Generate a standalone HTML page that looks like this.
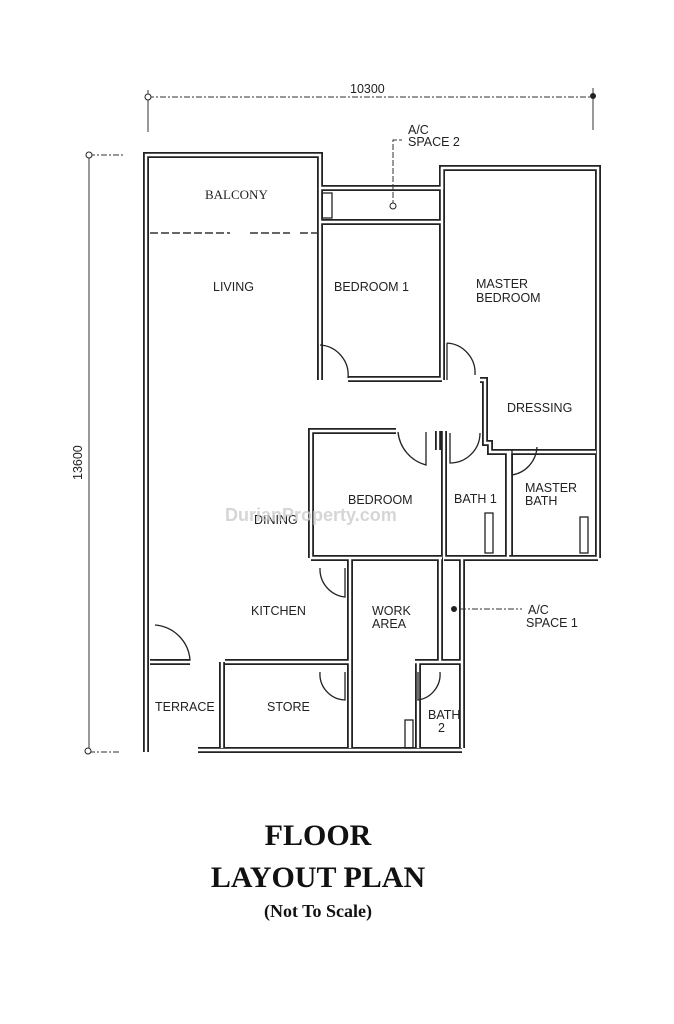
<!DOCTYPE html>
<html><head><meta charset="utf-8"><style>
body{margin:0;background:#fff;width:674px;height:1024px;overflow:hidden}
svg{display:block}
.w{fill:none;stroke:#222;stroke-width:6;stroke-linejoin:miter}
.wi{fill:none;stroke:#fff;stroke-width:2.4}
.t{font-family:"Liberation Sans",sans-serif;font-size:12.5px;fill:#222}
.d{stroke:#333;stroke-width:1;stroke-dasharray:6 2 2 2;fill:none}
.a{fill:none;stroke:#222;stroke-width:1.3}
</style></head><body>
<svg width="674" height="1024" viewBox="0 0 674 1024">
<defs>
<g id="walls">
<path d="M146,752 V155 H320 V188 H442 V168 H598 V558"/>
<path d="M320,188 V380 M320,222 H442 M442,168 V380"/>
<path d="M348,379 H442"/>
<path d="M480,380 H485 V443 H490 V452 H596"/>
<path d="M311,558 V431 H396 M311,558 H442"/>
<path d="M444,431 V558 M438,431 V450"/>
<path d="M508,452 V558 M444,558 H598"/>
<path d="M510,452 V555"/>
<path d="M350,558 V748 M462,558 V748 M440,558 V662"/>
<path d="M150,662 H190 M225,662 H350 M222,662 V748"/>
<path d="M415,662 H462 M418,662 V748"/>
<path d="M198,750 H462"/>
</g>
</defs>
<use href="#walls" class="w"/>
<use href="#walls" class="wi"/>
<path d="M150,233 H230 M250,233 H290 M300,233 H318" stroke="#333" stroke-width="1.5" stroke-dasharray="8 3"/>
<path class="a" d="M318,345 V380 M320,345 A30,30 0 0 1 348,378"/>
<path class="a" d="M447,343 V380 M447,343 A30,30 0 0 1 475,375"/>
<path class="a" d="M398,432 A38,38 0 0 0 426,465 V432"/>
<path class="a" d="M480,433 A30,30 0 0 1 450,463 V433"/>
<path class="a" d="M537,447 A30,30 0 0 1 512,475 V450"/>
<path class="a" d="M320,568 A28,28 0 0 0 345,597 V568"/>
<path class="a" d="M155,625 A38,38 0 0 1 190,660 H155"/>
<path class="a" d="M320,672 A26,26 0 0 0 345,700 V672"/>
<path class="a" d="M440,672 A26,26 0 0 1 418,700 V672"/>
<rect x="322" y="193" width="10" height="25" class="a"/>
<rect x="485" y="513" width="8" height="40" class="a"/>
<rect x="580" y="517" width="8" height="36" class="a"/>
<rect x="405" y="720" width="8" height="28" class="a"/>
<line x1="148" y1="97" x2="593" y2="97" class="d"/>
<line x1="148" y1="90" x2="148" y2="132" stroke="#333"/>
<line x1="593" y1="88" x2="593" y2="130" stroke="#333"/>
<circle cx="148" cy="97" r="3" fill="#fff" stroke="#222"/>
<circle cx="593" cy="96" r="3" fill="#222"/>
<text x="350" y="93" class="t">10300</text>
<line x1="89" y1="155" x2="89" y2="752" stroke="#333"/>
<line x1="89" y1="155" x2="125" y2="155" class="d"/>
<line x1="89" y1="752" x2="120" y2="752" class="d"/>
<circle cx="89" cy="155" r="3" fill="#fff" stroke="#222"/>
<circle cx="88" cy="751" r="3" fill="#fff" stroke="#222"/>
<text transform="translate(82,480) rotate(-90)" class="t">13600</text>
<path d="M393,206 V140 H402" stroke="#333" fill="none" stroke-dasharray="6 2"/>
<circle cx="393" cy="206" r="3" fill="#fff" stroke="#222"/>
<text x="408" y="134" class="t">A/C</text><text x="408" y="146" class="t">SPACE 2</text>
<circle cx="454" cy="609" r="3" fill="#222"/>
<path d="M460,609 H522" class="d"/>
<text x="528" y="614" class="t">A/C</text><text x="526" y="627" class="t">SPACE 1</text>
<text x="205" y="199" font-family="Liberation Serif,serif" font-size="13" fill="#222">BALCONY</text>
<text x="213" y="291" class="t">LIVING</text>
<text x="334" y="291" class="t">BEDROOM 1</text>
<text x="476" y="288" class="t">MASTER</text><text x="476" y="302" class="t">BEDROOM</text>
<text x="507" y="412" class="t">DRESSING</text>
<text x="348" y="504" class="t">BEDROOM</text>
<text x="254" y="524" class="t">DINING</text>
<text x="454" y="503" class="t">BATH 1</text>
<text x="525" y="492" class="t">MASTER</text><text x="525" y="505" class="t">BATH</text>
<text x="251" y="615" class="t">KITCHEN</text>
<text x="372" y="615" class="t">WORK</text><text x="372" y="628" class="t">AREA</text>
<text x="155" y="711" class="t">TERRACE</text>
<text x="267" y="711" class="t">STORE</text>
<text x="428" y="719" class="t">BATH</text><text x="438" y="732" class="t">2</text>
<text x="225" y="521" font-family="Liberation Sans,sans-serif" font-size="18" font-weight="bold" fill="#ccc" opacity="0.8">DurianProperty.com</text>
<text x="318" y="845" text-anchor="middle" font-family="Liberation Serif,serif" font-weight="bold" font-size="30" fill="#111">FLOOR</text>
<text x="318" y="887" text-anchor="middle" font-family="Liberation Serif,serif" font-weight="bold" font-size="30" fill="#111">LAYOUT PLAN</text>
<text x="318" y="917" text-anchor="middle" font-family="Liberation Serif,serif" font-weight="bold" font-size="18" fill="#111">(Not To Scale)</text>
</svg>
</body></html>
